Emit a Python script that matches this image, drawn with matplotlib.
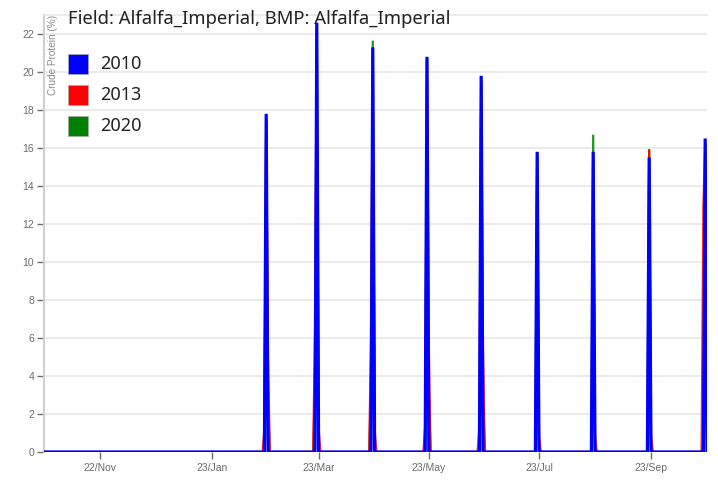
import matplotlib
matplotlib.use("Agg")
import matplotlib.pyplot as plt
import matplotlib.dates as mdates
from matplotlib.patches import Rectangle
import pandas as pd

# Daily axis covering one growing season
season_start = "2022-10-22"
season_end = "2023-10-24"

# Harvest (cutting) dates on the season axis
harvest_dates = ["2023-02-22", "2023-03-22", "2023-04-22", "2023-05-22", "2023-06-21",
                 "2023-07-22", "2023-08-22", "2023-09-22", "2023-10-23"]

# Crude protein (%) on each harvest day, per simulated year
peak_2010 = [17.8, 22.6, 21.3, 20.8, 19.8, 15.8, 15.8, 15.5, 16.5]
peak_2013 = [17.5, 22.2, 21.0, 20.5, 19.5, 15.5, 15.5, 15.9, 16.2]
peak_2020 = [17.6, 22.4, 21.65, 20.6, 19.6, 15.6, 16.7, 15.95, 16.3]

# Crude protein on the day before / after each harvest
before_2010 = [0, 0, 0, 0, 0, 0, 0, 0, 0]
after_2010 = [0, 0, 0, 0, 0, 0, 0, 0, 0]
before_2013 = [1.2, 6.5, 6.0, 1.4, 1.3, 0.0, 0.0, 0.0, 12.9]
after_2013 = [4.9, 1.3, 1.2, 5.7, 5.5, 0.9, 0.9, 0.9, 9.2]
before_2020 = [0.0, 3.6, 3.4, 0.0, 0.0, 0.0, 0.0, 0.0, 0.6]
after_2020 = [2.7, 0.0, 0.0, 3.2, 3.0, 0.0, 0.0, 0.0, 0.0]

years = ["2010", "2013", "2020"]
colors = {"2010": "#0000ff", "2013": "#ff0000", "2020": "#008000"}


def season_series(peaks, before, after):
    days = pd.date_range(season_start, season_end, freq="D")
    s = pd.Series(0.0, index=days)
    for d, p, b, a in zip(harvest_dates, peaks, before, after):
        d = pd.Timestamp(d)
        s[d - pd.Timedelta(days=1)] = b
        s[d] = p
        nxt = d + pd.Timedelta(days=1)
        if nxt in s.index:
            s[nxt] = a
    return s


series = {
    "2010": season_series(peak_2010, before_2010, after_2010),
    "2013": season_series(peak_2013, before_2013, after_2013),
    "2020": season_series(peak_2020, before_2020, after_2020),
}

fig = plt.figure(figsize=(7.18, 4.84), dpi=100)
ax = fig.add_axes([44 / 718, 32 / 484, (707 - 44) / 718, (452 - 15) / 484])

for yr, lw, alpha in (("2020", 1.6, 0.85), ("2013", 1.6, 0.85), ("2010", 2.3, 1.0)):
    s = series[yr]
    ax.plot(s.index, s.values, color=colors[yr], lw=lw, alpha=alpha,
            solid_joinstyle="miter", zorder=3)

ax.set_xlim(pd.Timestamp(season_start), pd.Timestamp(season_end))
ax.set_ylim(0, 23)

tick_color = "#6b6b6b"
ax.set_yticks(range(0, 23, 2))
ax.tick_params(axis="y", labelsize=7.5, colors=tick_color, length=5, width=1, pad=2)
xticks = ["2022-11-22", "2023-01-23", "2023-03-23", "2023-05-23", "2023-07-23", "2023-09-23"]
ax.set_xticks([pd.Timestamp(t) for t in xticks])
ax.xaxis.set_major_formatter(mdates.DateFormatter("%d/%b"))
ax.tick_params(axis="x", labelsize=7.5, colors=tick_color, length=5, width=1, pad=3)
for lbl in ax.get_xticklabels() + ax.get_yticklabels():
    lbl.set_family("Liberation Sans")

ax.grid(axis="y", color="#e8e8e8", lw=1.2, zorder=0)
ax.set_axisbelow(True)
for side in ("right", "bottom"):
    ax.spines[side].set_visible(False)
ax.spines["top"].set_color("#e8e8e8")
ax.spines["top"].set_linewidth(1.2)
ax.spines["left"].set_color("#d0d0d0")
ax.spines["left"].set_linewidth(1.5)

ax.text(0.013, 1.0, "Crude Protein (%)", transform=ax.transAxes, rotation=90,
        ha="center", va="top", fontsize=7.2, color="#8a8a8a", family="Liberation Sans")

ax.text(68 / 718, 1 - 19 / 484, "Field: Alfalfa_Imperial, BMP: Alfalfa_Imperial",
        transform=fig.transFigure, ha="left", va="center", fontsize=13.3,
        color="#222222", family="Noto Sans", zorder=5)

# Legend: colour squares with year labels
for i, yr in enumerate(years):
    yc = 64 + i * 31
    fig.patches.append(Rectangle((68 / 718, 1 - (yc + 10) / 484), 20 / 718, 20 / 484,
                                 transform=fig.transFigure, facecolor=colors[yr],
                                 edgecolor="#aaaaaa", lw=0.5, zorder=5))
    fig.text(100 / 718, 1 - yc / 484, yr, ha="left", va="center", fontsize=13,
             color="#222222", family="Noto Sans", zorder=5)

fig.savefig("out.png", dpi=100)
